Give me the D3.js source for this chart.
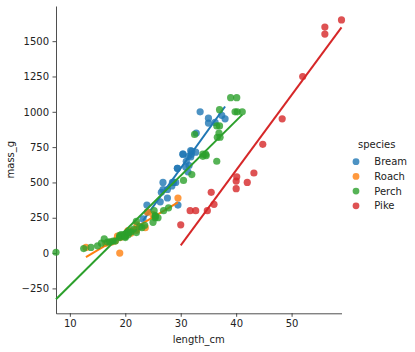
<!DOCTYPE html>
<html>
<head>
<meta charset="utf-8">
<script src="https://cdn.jsdelivr.net/npm/d3@7"></script>
<style>
  body { margin: 0; background: #fff; }
  text { font-family: "DejaVu Sans", sans-serif; fill: #222; }
</style>
</head>
<body>
<svg id="chart"></svg>
<script>
// fish measurements: length_cm / mass_g per species
const species = ["Bream", "Roach", "Perch", "Pike"];
const colors = ["#1f77b4", "#ff7f0e", "#2ca02c", "#d62728"];

const breamLength = [23.2, 24.0, 23.9, 26.3, 26.5, 26.8, 26.8, 27.6, 27.6, 28.5, 28.4, 28.7, 29.1, 29.5, 29.4, 29.4, 30.4, 30.4, 30.9, 31.0, 31.3, 31.4, 31.5, 31.8, 31.9, 31.8, 32.0, 32.7, 32.8, 33.5, 35.0, 35.0, 36.2, 37.4, 38.0];
const breamMass = [242, 290, 340, 363, 430, 450, 500, 390, 450, 500, 475, 500, 500, 340, 600, 600, 700, 700, 610, 650, 575, 685, 620, 680, 700, 725, 720, 714, 850, 1000, 920, 955, 925, 975, 950];

const roachLength = [12.9, 16.5, 17.5, 18.2, 18.6, 19.0, 19.1, 19.4, 20.4, 20.5, 20.5, 21.0, 21.1, 22.0, 22.0, 22.1, 23.6, 24.0, 25.0, 29.5];
const roachMass = [40, 69, 78, 87, 120, 0, 110, 120, 150, 145, 160, 140, 160, 169, 161, 200, 180, 290, 272, 390];

const perchLength = [7.5, 12.5, 13.8, 15.0, 15.7, 16.2, 16.8, 17.2, 17.8, 18.2, 19.0, 19.0, 19.0, 19.3, 20.0, 20.0, 20.0, 20.0, 20.0, 20.5, 20.5, 20.7, 21.0, 21.5, 22.0, 22.0, 22.6, 23.0, 23.5, 25.0, 25.2, 25.4, 25.4, 25.4, 25.9, 26.9, 27.8, 30.5, 32.0, 32.5, 34.0, 34.0, 34.5, 34.6, 36.5, 36.5, 36.6, 36.9, 37.0, 37.0, 37.1, 39.0, 39.8, 40.1, 40.2, 41.1];
const perchMass = [5.9, 32, 40, 51.5, 70, 100, 78, 80, 85, 85, 110, 115, 125, 130, 120, 120, 130, 135, 110, 130, 150, 145, 150, 170, 225, 145, 188, 180, 197, 218, 300, 260, 265, 250, 250, 300, 320, 514, 556, 840, 685, 700, 700, 690, 900, 650, 820, 850, 900, 1015, 820, 1100, 1000, 1100, 1000, 1000];

const pikeLength = [30.0, 31.7, 32.7, 34.8, 35.5, 36.0, 40.0, 40.0, 40.1, 42.0, 43.2, 44.8, 48.3, 52.0, 56.0, 56.0, 59.0];
const pikeMass = [200, 300, 300, 300, 430, 345, 456, 510, 540, 500, 567, 770, 950, 1250, 1600, 1550, 1650];

const yTicks = [-250, 0, 250, 500, 750, 1000, 1250, 1500];
const xTicks = [10, 20, 30, 40, 50];

const lengths = [breamLength, roachLength, perchLength, pikeLength];
const masses = [breamMass, roachMass, perchMass, pikeMass];

// least squares fit per species, drawn over that species' own x range
function fit(xs, ys) {
  const mx = d3.mean(xs), my = d3.mean(ys);
  let sxy = 0, sxx = 0;
  xs.forEach((x, i) => { sxy += (x - mx) * (ys[i] - my); sxx += (x - mx) * (x - mx); });
  const b = sxy / sxx, a = my - b * mx;
  const [x0, x1] = d3.extent(xs);
  return [[x0, a + b * x0], [x1, a + b * x1]];
}

const groups = species.map((s, i) => ({
  name: s,
  color: colors[i],
  points: lengths[i].map((x, j) => [x, masses[i][j]]),
  line: fit(lengths[i], masses[i])
}));

const W = 415, H = 352;
const margin = { top: 6, right: 73.5, bottom: 38.7, left: 56 };
const width = W - margin.left - margin.right;
const height = H - margin.top - margin.bottom;

const svg = d3.select("#chart").attr("width", W).attr("height", H);
const g = svg.append("g").attr("transform", `translate(${margin.left},${margin.top})`);

const allX = lengths.flat();
const x = d3.scaleLinear().domain(d3.extent(allX)).range([0, width]);

// matplotlib-like autoscale: points and fit lines plus 5% padding
const allY = masses.flat().concat(groups.flatMap(d => d.line.map(p => p[1])));
const [yLo, yHi] = d3.extent(allY);
const pad = (yHi - yLo) * 0.05;
const y = d3.scaleLinear().domain([yLo - pad, yHi + pad]).range([height, 0]);

const xAxis = g.append("g")
  .attr("transform", `translate(0,${height})`)
  .call(d3.axisBottom(x).tickValues(xTicks).tickFormat(d3.format("d")).tickSize(3.5).tickSizeOuter(0).tickPadding(3.5));
const yAxis = g.append("g")
  .call(d3.axisLeft(y).tickValues(yTicks).tickFormat(d3.format("d")).tickSize(3.5).tickSizeOuter(0).tickPadding(3.5));

[xAxis, yAxis].forEach(a => {
  a.attr("font-family", null).attr("font-size", null);
  a.select(".domain").attr("stroke", "#222").attr("stroke-width", 0.8);
  a.selectAll(".tick line").attr("stroke", "#222").attr("stroke-width", 0.8);
  a.selectAll(".tick text").style("font-size", "10px").attr("fill", "#222");
});

const plot = g.append("g");
groups.forEach(d => {
  plot.append("g")
    .selectAll("circle")
    .data(d.points)
    .enter()
    .append("circle")
    .attr("cx", p => x(p[0]))
    .attr("cy", p => y(p[1]))
    .attr("r", 3.6)
    .attr("fill", d.color)
    .attr("fill-opacity", 0.8);

  plot.append("path")
    .datum(d.line)
    .attr("d", d3.line().x(p => x(p[0])).y(p => y(p[1])))
    .attr("stroke", d.color)
    .attr("stroke-width", 2)
    .attr("fill", "none");
});

// axis labels
svg.append("text")
  .attr("x", margin.left + width / 2)
  .attr("y", 343)
  .attr("text-anchor", "middle")
  .style("font-size", "10px")
  .text("length_cm");

svg.append("text")
  .attr("transform", `translate(14,${margin.top + height / 2}) rotate(-90)`)
  .attr("text-anchor", "middle")
  .style("font-size", "10px")
  .text("mass_g");

// legend
const legend = svg.append("g");
legend.append("text")
  .attr("x", 376.7)
  .attr("y", 148)
  .attr("text-anchor", "middle")
  .style("font-size", "10px")
  .text("species");

const items = legend.selectAll(".legend-item")
  .data(groups)
  .enter()
  .append("g")
  .attr("class", "legend-item")
  .attr("transform", (d, i) => `translate(356,${161.7 + i * 14.7})`);

items.append("circle")
  .attr("r", 3.4)
  .attr("fill", d => d.color)
  .attr("fill-opacity", 0.8);

items.append("text")
  .attr("x", 18.3)
  .attr("y", 3.6)
  .style("font-size", "10px")
  .text(d => d.name);
</script>
</body>
</html>
